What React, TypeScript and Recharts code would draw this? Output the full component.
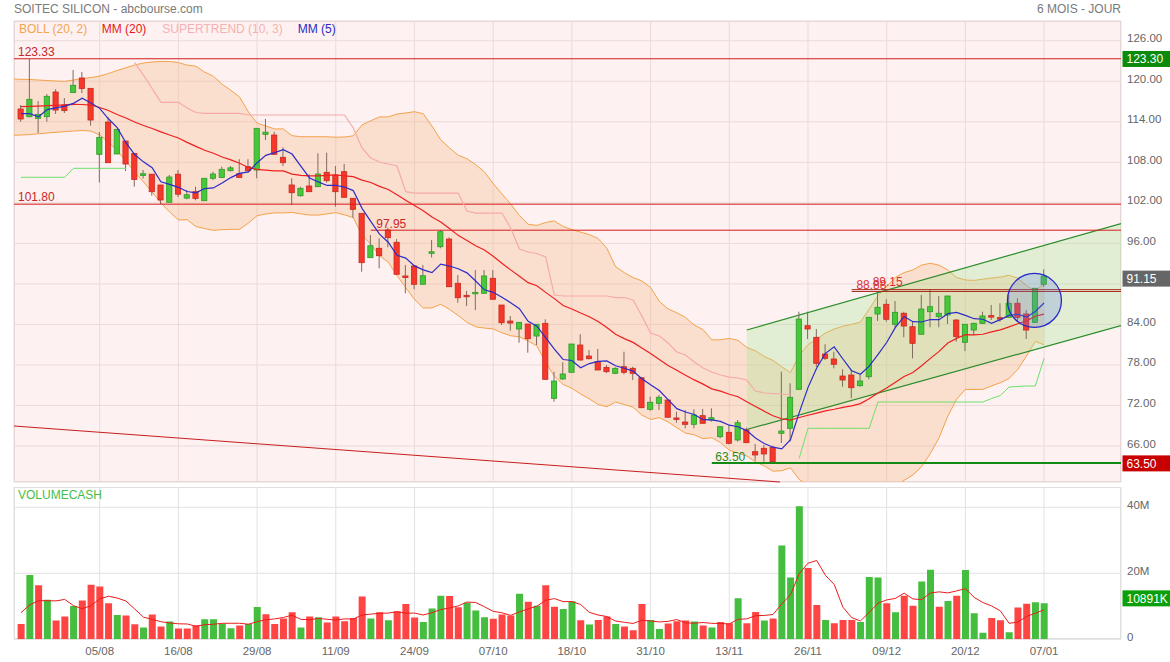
import React from 'react';
import {
  ComposedChart, Bar, Line, Area, XAxis, YAxis, CartesianGrid,
  ReferenceLine, ReferenceDot, Cell,
} from 'recharts';

// ---------------- data ----------------
const DATE_LABELS = ['05/08', '16/08', '29/08', '11/09', '24/09', '07/10', '18/10', '31/10', '13/11', '26/11', '09/12', '20/12', '07/01'];
const DATE_TICKS = [9, 18, 27, 36, 45, 54, 63, 72, 81, 90, 99, 108, 117];
const PRICE_TICKS = [66, 72, 78, 84, 90, 96, 102, 108, 114, 120, 126];
const VOLUME_TICKS = [0, 20, 40];

const OPEN = [
  115.89, 114.75, 114.51, 114.75, 118.41, 116.48, 118.33, 120.48, 118.95, 109.18,
  113.96, 109.23, 111.15, 109.30, 106.04, 106.24, 104.64, 102.08, 106.24, 102.70,
  103.65, 102.31, 105.63, 105.75, 106.76, 106.31, 107.35, 106.86, 112.14, 112.04,
  108.74, 104.64, 103.05, 104.49, 104.39, 106.52, 106.12, 106.61, 102.67, 100.45,
  93.88, 95.27, 97.98, 96.16, 91.17, 92.65, 89.94, 94.65, 95.50, 96.64,
  90.09, 88.31, 88.61, 88.61, 90.83, 86.87, 84.50, 83.32, 84.06, 82.28,
  84.16, 73.06, 75.92, 76.91, 80.95, 79.32, 78.48, 77.65, 76.76, 77.74,
  77.50, 76.11, 71.43, 72.32, 72.81, 70.15, 69.55, 69.21, 70.49, 69.85,
  67.38, 68.03, 66.89, 68.37, 65.16, 65.66, 65.81, 67.88, 68.62, 74.39,
  83.81, 82.09, 79.62, 78.88, 76.36, 76.51, 74.93, 76.26, 85.54, 86.98,
  84.02, 85.65, 83.66, 82.54, 85.88, 85.14, 85.39, 84.65, 81.35, 83.17,
  84.16, 85.30, 85.00, 85.05, 87.13, 85.54, 84.31, 89.94,
];
const HIGH = [
  116.48, 123.30, 117.07, 118.11, 118.81, 117.52, 121.66, 121.37, 118.95, 112.48,
  114.66, 112.88, 111.15, 109.42, 106.86, 106.24, 104.64, 106.12, 106.86, 103.90,
  104.39, 105.63, 106.61, 107.35, 107.45, 108.46, 108.46, 113.03, 114.41, 112.53,
  110.22, 105.63, 104.39, 106.22, 109.33, 109.42, 107.45, 107.75, 102.67, 100.45,
  97.24, 96.75, 98.30, 96.64, 92.80, 92.80, 92.80, 96.50, 97.98, 96.89,
  91.31, 88.95, 92.05, 92.05, 92.05, 86.87, 85.25, 84.31, 84.06, 84.02,
  84.76, 77.00, 78.40, 81.10, 82.54, 80.21, 80.36, 78.00, 77.65, 79.96,
  77.74, 76.11, 73.30, 73.55, 72.81, 71.08, 71.33, 71.43, 71.48, 71.58,
  68.86, 69.11, 69.85, 68.71, 66.30, 66.15, 66.04, 77.00, 75.28, 85.88,
  85.88, 83.32, 81.06, 79.96, 77.35, 77.25, 76.51, 85.05, 88.88, 87.72,
  87.47, 85.88, 84.40, 88.35, 89.15, 88.21, 88.21, 84.80, 84.02, 84.26,
  85.88, 86.87, 87.13, 88.35, 87.87, 86.13, 89.35, 92.16,
];
const LOW = [
  114.01, 114.66, 112.34, 114.01, 115.15, 115.30, 118.33, 118.26, 113.42, 105.01,
  107.94, 109.23, 106.71, 104.39, 105.60, 103.08, 101.83, 102.08, 102.86, 102.52,
  102.37, 102.31, 105.38, 105.68, 106.64, 105.68, 106.49, 105.63, 111.30, 109.08,
  107.45, 101.68, 102.91, 103.65, 104.39, 104.98, 101.43, 102.82, 99.80, 91.80,
  93.88, 92.31, 95.42, 91.42, 88.61, 89.20, 89.94, 93.91, 95.27, 89.58,
  87.21, 86.73, 86.13, 88.61, 87.72, 83.91, 83.07, 81.29, 79.81, 80.95,
  75.87, 72.56, 75.77, 76.91, 78.63, 78.83, 77.25, 76.80, 76.66, 76.61,
  75.77, 71.58, 71.23, 71.33, 70.25, 69.45, 68.62, 68.62, 69.26, 69.60,
  67.14, 66.25, 66.64, 66.49, 63.82, 63.68, 63.50, 66.44, 66.64, 74.39,
  81.84, 77.74, 78.73, 77.50, 74.78, 73.06, 74.78, 75.87, 84.51, 84.40,
  83.57, 82.09, 78.98, 82.54, 83.57, 83.57, 84.06, 81.44, 80.06, 82.43,
  84.06, 84.65, 84.40, 85.05, 84.51, 81.84, 84.31, 89.58,
];
const CLOSE = [
  114.41, 117.33, 115.10, 117.77, 115.74, 115.65, 119.40, 118.92, 114.26, 111.70,
  107.94, 112.88, 107.75, 105.45, 106.31, 103.65, 102.42, 105.82, 103.28, 103.20,
  102.64, 105.63, 106.27, 106.96, 107.18, 105.75, 106.76, 113.03, 112.46, 109.18,
  107.94, 103.50, 104.15, 103.65, 106.27, 105.28, 103.65, 102.82, 101.04, 93.14,
  95.65, 94.17, 96.84, 91.42, 90.97, 89.94, 91.21, 94.75, 97.73, 89.58,
  87.95, 88.16, 88.75, 91.17, 87.72, 84.25, 84.20, 84.31, 81.88, 84.02,
  75.87, 75.62, 76.66, 81.10, 78.73, 78.92, 77.25, 77.00, 77.50, 76.91,
  76.76, 71.67, 72.47, 73.21, 70.25, 70.05, 69.21, 70.59, 69.36, 70.19,
  68.86, 66.40, 69.45, 66.49, 64.67, 64.82, 63.68, 68.22, 73.21, 84.80,
  83.32, 78.24, 78.98, 78.10, 75.77, 74.63, 75.62, 85.05, 86.53, 84.76,
  85.79, 83.76, 81.20, 86.28, 86.62, 85.65, 88.21, 82.18, 84.02, 84.16,
  85.25, 85.20, 84.90, 87.13, 85.05, 83.17, 89.35, 91.15,
];
// volume, millions
const VOLUME_M = [
  4.66, 19.5, 16.4, 11.95, 5.67, 6.89, 10.1, 11.75, 16.5, 16.0,
  10.9, 7.4, 7.2, 4.56, 3.54, 7.5, 3.85, 5.37, 3.24, 3.24,
  4.15, 6.08, 6.08, 4.66, 3.34, 4.15, 4.66, 9.82, 7.6, 4.66,
  6.28, 8.2, 3.54, 6.89, 6.68, 5.06, 6.89, 5.47, 6.48, 12.96,
  6.28, 8.2, 5.77, 8.5, 10.7, 6.58, 5.27, 9.3, 13.2, 13.1,
  9.7, 11.1, 8.7, 6.7, 6.2, 7.5, 7.2, 13.8, 11.4, 10.2,
  16.4, 9.9, 9.2, 11.5, 5.77, 4.46, 5.87, 6.9, 4.66, 3.85,
  2.73, 10.7, 5.87, 3.14, 4.76, 5.47, 5.67, 5.37, 4.15, 3.54,
  5.27, 4.86, 12.46, 4.86, 8.3, 5.67, 6.28, 28.4, 18.7, 40.3,
  21.6, 10.4, 5.87, 4.86, 5.87, 5.87, 5.27, 18.9, 18.7, 10.9,
  8.2, 13.2, 10.2, 17.5, 21.1, 9.9, 11.6, 13.2, 21.0, 7.9,
  2.0, 6.48, 5.77, 2.1, 9.6, 10.8, 11.2, 10.89,
];
const SUPERTREND = [
  105.78, 105.78, 105.78, 105.78, 105.78, 105.78, 107.11, 107.11, 107.11, 107.11,
  107.11, 107.11, 107.11, 122.77, 120.92, 118.92, 116.88, 116.88, 116.88, 116.04,
  115.37, 115.25, 115.25, 115.25, 115.25, 115.25, 115.00, 115.00, 115.00, 115.00,
  115.00, 115.00, 115.00, 115.00, 115.00, 115.00, 115.00, 115.00, 113.08, 110.12,
  108.64, 108.04, 107.75, 107.45, 103.65, 103.45, 103.45, 103.45, 103.45, 103.45,
  103.45, 100.79, 100.49, 100.49, 100.49, 100.49, 98.27, 95.16, 94.72, 94.50,
  93.98, 88.35, 88.21, 88.21, 88.21, 88.21, 88.21, 88.21, 87.98, 87.98,
  87.61, 85.25, 82.73, 82.28, 81.25, 79.92, 79.47, 78.44, 77.55, 76.96,
  76.51, 76.21, 76.07, 75.77, 74.14, 73.85, 73.77, 73.70, 73.55, 64.18,
  68.62, 68.62, 68.62, 68.62, 68.62, 68.62, 68.62, 68.62, 72.51, 72.51,
  72.51, 72.51, 72.51, 72.51, 72.51, 72.51, 72.51, 72.51, 72.51, 72.51,
  72.51, 73.03, 73.48, 74.73, 74.81, 74.88, 74.88, 78.98,
];
const SUPERTREND_SUPPORT = [[0, 12], [89, 117]];

// indicator values read at the start of the window (before enough history)
const MM5_HEAD = [115.2, 115.2, 114.75, 115.8];
const MM20_HEAD = [116.23, 116.29, 116.33, 116.38, 116.44, 116.51, 116.58, 116.56, 116.48, 116.11,
  115.67, 115.07, 114.56, 113.96, 113.45, 113.0, 112.5, 112.05, 111.6];
const BOLL_UP_HEAD = [120.29, 120.26, 120.18, 120.11, 120.03, 119.99, 120.18, 120.40, 120.55, 120.77,
  121.14, 121.59, 122.00, 122.40, 122.70, 122.85, 122.92, 122.92, 122.77];
const BOLL_LOW_HEAD = [112.04, 112.11, 112.22, 112.34, 112.44, 112.53, 112.63, 112.71, 112.63, 112.04,
  111.0, 109.7, 108.2, 106.55, 105.1, 103.6, 102.0, 100.65, 99.46];
const BOLL_EDGE = [112.0, 120.33];
const VOL_MA_HEAD = [8.1, 10.4, 11.7, 11.7];

const CHANNEL = [
  { i: 83, low: 68.44, high: 83.17 },
  { i: 125.8, low: 83.82, high: 98.94 },
];
const TREND_LINE = [{ i: -0.8, price: 68.96 }, { i: 86.8, price: 60.67 }];
const TARGET_CIRCLE = { i: 115.9, price: 87.55 };
const LEVEL_TOP = 123.33;
const LEVEL_MID = 101.80;
const LEVEL_9795 = { price: 97.95, from: 40 };
const LEVEL_8915 = { price: 89.15, from: 95 };
const LEVEL_8888 = { price: 88.88, from: 95 };
const LEVEL_LOW = { price: 63.50, from: 79 };
const BADGE_HIGH = 123.30;
const BADGE_LAST = 91.15;
const BADGE_LOW = 63.50;
const LAST_VOLUME = 10.891;
// axis label hidden behind the last-price badge in the reference
const HIDDEN_PRICE_LABELS = [90];

// ---------------- layout / style ----------------
const FONT = '"Liberation Sans", Arial, Helvetica, sans-serif';
const CHART_W = 1170;
const PRICE_H = 490;
const AXIS_W = 49;
const X_DOMAIN = [-0.8, 125.8];
const PRICE_DOMAIN = [60.67, 128.92];
const VOL_DOMAIN = [0, 46.15];
const GREEN = '#46c83a';
const GREEN_EDGE = '#2f9a26';
const RED = '#f5382a';
const RED_EDGE = '#c8281e';
const WICK = '#7f6b60';
const VOL_GREEN = '#45bd3f';
const VOL_RED = '#ff4444';

// ---------------- derived rows ----------------
const sma = (arr: number[], n: number, end: number) => {
  let s = 0;
  for (let k = end - n + 1; k <= end; k++) s += arr[k];
  return s / n;
};
const sd = (arr: number[], n: number, end: number, m: number) => {
  let s = 0;
  for (let k = end - n + 1; k <= end; k++) s += (arr[k] - m) * (arr[k] - m);
  return Math.sqrt(s / n);
};

const rows: any[] = [{ i: -1, boll: BOLL_EDGE }];
CLOSE.forEach((c, i) => {
  let boll: number[];
  if (i < BOLL_UP_HEAD.length) boll = [BOLL_LOW_HEAD[i], BOLL_UP_HEAD[i]];
  else {
    const m = sma(CLOSE, 20, i);
    const s = sd(CLOSE, 20, i, m);
    boll = [m - 2 * s, m + 2 * s];
  }
  const support = SUPERTREND_SUPPORT.some(([a, b]) => i >= a && i <= b);
  rows.push({
    i,
    o: OPEN[i], h: HIGH[i], l: LOW[i], c,
    mm5: i < MM5_HEAD.length ? MM5_HEAD[i] : sma(CLOSE, 5, i),
    mm20: i < MM20_HEAD.length ? MM20_HEAD[i] : sma(CLOSE, 20, i),
    boll,
    stSupport: support ? SUPERTREND[i] : null,
    stResist: support ? null : SUPERTREND[i],
    v: VOLUME_M[i],
    vma: i < VOL_MA_HEAD.length ? VOL_MA_HEAD[i] : sma(VOLUME_M, 5, i),
    up: i > 0 && c > CLOSE[i - 1],
  });
});

// ---------------- render helpers ----------------
const Candle = (props: any) => {
  const { x, y, width, height, payload } = props;
  if (!payload || payload.c == null || !isFinite(y) || !isFinite(height)) return null;
  const { o, h, l, c } = payload;
  const k = height / (h - l);
  const yO = y + (h - o) * k;
  const yC = y + (h - c) * k;
  const up = c >= o;
  const cx = x + width / 2;
  const top = Math.min(yO, yC);
  const bh = Math.max(Math.abs(yC - yO), 1.5);
  return (
    <g>
      <line x1={cx} x2={cx} y1={y} y2={y + height} stroke={WICK} strokeWidth={1} />
      <rect x={x + 0.4} y={top} width={width - 0.8} height={bh}
        fill={up ? GREEN : RED} stroke={up ? GREEN_EDGE : RED_EDGE} strokeWidth={0.8} />
    </g>
  );
};

const PriceTick = (props: any) => {
  const { x, y, payload } = props;
  const v = Number(payload.value);
  if (HIDDEN_PRICE_LABELS.includes(v)) return <g />;
  return (
    <text x={x} y={y - 2.6} dy="0.36em" textAnchor="start" fill="#666" fontSize={11.5} fontFamily={FONT}>
      {v.toFixed(2)}
    </text>
  );
};
const VolTick = (props: any) => {
  const { x, y, payload } = props;
  const v = Number(payload.value);
  return (
    <text x={x} y={y - 2.6} dy="0.36em" textAnchor="start" fill="#666" fontSize={11.5} fontFamily={FONT}>
      {v === 0 ? '0' : `${v}M`}
    </text>
  );
};
const DateTick = (props: any) => {
  const { x, y, payload } = props;
  const idx = DATE_TICKS.indexOf(payload.value);
  return (
    <text x={x} y={y} dy={16} textAnchor="middle" fill="#666" fontSize={11.5} fontFamily={FONT}>
      {DATE_LABELS[idx]}
    </text>
  );
};

const levelLabel = (text: string, color: string, dx: number, dy: number) => (props: any) => {
  const vb = props.viewBox || {};
  return (
    <text x={(vb.x ?? 0) + dx} y={(vb.y ?? 0) + dy} fill={color} fontSize={12} fontFamily={FONT}>{text}</text>
  );
};
const badgeLabel = (text: string, bg: string, shift: number) => (props: any) => {
  const vb = props.viewBox || {};
  const left = (vb.x ?? 0) + (vb.width ?? 0) + 1.5;
  const cy = (vb.y ?? 0) + shift;
  return (
    <g>
      <rect x={left} y={cy - 8} width={CHART_W - left} height={16} fill={bg} />
      <text x={left + 4} y={cy} dy="0.36em" fill="#fff" fontSize={12} fontFamily={FONT}>{text}</text>
    </g>
  );
};

const layer: React.CSSProperties = { position: 'absolute', left: 0, top: 0 };
const txt = (left: number, top: number, color: string): React.CSSProperties => ({
  position: 'absolute', left, top, color, fontSize: 12, lineHeight: '14px', fontFamily: FONT, whiteSpace: 'nowrap',
});

export default function App() {
  const margin = { top: 21, right: AXIS_W, bottom: 8, left: 14 };
  return (
    <div style={{ position: 'absolute', left: 0, top: 0, width: 1170, height: 662, background: '#fff', overflow: 'hidden', fontFamily: FONT }}>
      {/* panel backgrounds */}
      <div style={{ position: 'absolute', left: 14, top: 21, width: 1107, height: 461, background: '#fdf1f1', border: '1px solid #e3d3d3', boxSizing: 'border-box' }} />
      <div style={{ position: 'absolute', left: 14, top: 487, width: 1107, height: 152.3, background: '#fff', border: '1px solid #dcdcdc', boxSizing: 'border-box' }} />

      {/* price: grid, axis, bollinger */}
      <div style={layer}>
        <ComposedChart width={CHART_W} height={PRICE_H} data={rows} margin={{ ...margin, right: 0 }}>
          <XAxis dataKey="i" type="number" domain={X_DOMAIN} ticks={DATE_TICKS} allowDataOverflow hide />
          <YAxis orientation="right" type="number" width={AXIS_W} domain={PRICE_DOMAIN} ticks={PRICE_TICKS}
            allowDataOverflow interval={0} tickLine={false} axisLine={false} tickSize={0} tickMargin={6} tick={<PriceTick />} />
          <CartesianGrid stroke="#ebdada" />
          <Area type="linear" dataKey="boll" stroke="#f5a24a" strokeWidth={1} fill="#f7b987" fillOpacity={0.32} isAnimationActive={false} />
        </ComposedChart>
      </div>

      {/* price: channel */}
      <div style={layer}>
        <ComposedChart width={CHART_W} height={PRICE_H} data={CHANNEL} margin={margin}>
          <XAxis dataKey="i" type="number" domain={X_DOMAIN} allowDataOverflow hide />
          <YAxis type="number" domain={PRICE_DOMAIN} allowDataOverflow hide />
          <Area type="linear" dataKey={(d: any) => [d.low, d.high]} stroke="#2b8c2b" strokeWidth={1.2}
            fill="#9fe58a" fillOpacity={0.28} isAnimationActive={false} />
        </ComposedChart>
      </div>

      {/* price: levels, supertrend, candles, averages */}
      <div style={layer}>
        <ComposedChart width={CHART_W} height={PRICE_H} data={rows} margin={margin}>
          <XAxis dataKey="i" type="number" domain={X_DOMAIN} allowDataOverflow hide />
          <YAxis type="number" domain={PRICE_DOMAIN} allowDataOverflow hide />
          <ReferenceLine y={LEVEL_TOP} stroke="#d41c1c" strokeWidth={1} label={levelLabel('123.33', '#c82828', 4, -3)} />
          <ReferenceLine y={LEVEL_MID} stroke="#d41c1c" strokeWidth={1} label={levelLabel('101.80', '#c82828', 4, -3)} />
          <ReferenceLine ifOverflow="visible" segment={[{ x: LEVEL_9795.from, y: LEVEL_9795.price }, { x: X_DOMAIN[1], y: LEVEL_9795.price }]}
            stroke="#d41c1c" strokeWidth={1} label={levelLabel('97.95', '#c82828', 5.5, -2)} />
          <ReferenceLine ifOverflow="visible" segment={[{ x: LEVEL_8888.from, y: LEVEL_8888.price }, { x: X_DOMAIN[1], y: LEVEL_8888.price }]}
            stroke="#a8281c" strokeWidth={1} label={levelLabel('88.88', '#d83434', 4.7, -2)} />
          <ReferenceLine ifOverflow="visible" segment={[{ x: LEVEL_8915.from, y: LEVEL_8915.price }, { x: X_DOMAIN[1], y: LEVEL_8915.price }]}
            stroke="#a8281c" strokeWidth={1} label={levelLabel('89.15', '#d83434', 21, -3.6)} />
          <ReferenceLine ifOverflow="visible" segment={[{ x: LEVEL_LOW.from, y: LEVEL_LOW.price }, { x: X_DOMAIN[1], y: LEVEL_LOW.price }]}
            stroke="#138a13" strokeWidth={2} label={levelLabel('63.50', '#1e8c1e', 3.5, -2)} />
          <ReferenceLine ifOverflow="visible" segment={[{ x: TREND_LINE[0].i, y: TREND_LINE[0].price }, { x: TREND_LINE[1].i, y: TREND_LINE[1].price }]}
            stroke="#c81e1e" strokeWidth={1} />
          <Line type="linear" dataKey="stResist" stroke="#f5aaaa" strokeWidth={1.2} dot={false} isAnimationActive={false} />
          <Line type="linear" dataKey="stSupport" stroke="#6ee06a" strokeWidth={1} dot={false} isAnimationActive={false} />
          <Bar dataKey={(d: any) => (d.c == null ? null : [d.l, d.h])} barSize={6} shape={Candle} isAnimationActive={false} />
          <Line type="linear" dataKey="mm20" stroke="#ee2020" strokeWidth={1.2} dot={false} isAnimationActive={false} />
          <Line type="linear" dataKey="mm5" stroke="#2c2cc8" strokeWidth={1.2} dot={false} isAnimationActive={false} />
          <ReferenceDot x={TARGET_CIRCLE.i} y={TARGET_CIRCLE.price} r={27} ifOverflow="visible"
            fill="#5a7ee0" fillOpacity={0.25} stroke="#2626c8" strokeWidth={1.3} />
          <ReferenceLine y={BADGE_HIGH} stroke="none" label={badgeLabel('123.30', '#0b8a0b', 0)} />
          <ReferenceLine y={BADGE_LAST} stroke="none" label={badgeLabel('91.15', '#666666', 2.5)} />
          <ReferenceLine y={BADGE_LOW} stroke="none" label={badgeLabel('63.50', '#c80000', 0.5)} />
        </ComposedChart>
      </div>

      {/* volume */}
      <div style={{ position: 'absolute', left: 0, top: 487 }}>
        <ComposedChart width={CHART_W} height={175} data={rows} margin={{ top: 0, right: 0, bottom: 0, left: 14 }}>
          <XAxis dataKey="i" type="number" domain={X_DOMAIN} ticks={DATE_TICKS} allowDataOverflow interval={0}
            height={22.7} tickLine={false} axisLine={false} tickSize={0} tickMargin={0} tick={<DateTick />} />
          <YAxis orientation="right" type="number" width={AXIS_W} domain={VOL_DOMAIN} ticks={VOLUME_TICKS}
            allowDataOverflow interval={0} tickLine={false} axisLine={false} tickSize={0} tickMargin={6} tick={<VolTick />} />
          <CartesianGrid stroke="#e2e2e2" />
          <Bar dataKey="v" barSize={7} isAnimationActive={false}>
            {rows.map((r) => (
              <Cell key={r.i} fill={r.up ? VOL_GREEN : VOL_RED} />
            ))}
          </Bar>
          <Line type="linear" dataKey="vma" stroke="#e81c1c" strokeWidth={1} dot={false} isAnimationActive={false} />
          <ReferenceLine y={LAST_VOLUME} stroke="none" label={badgeLabel('10891K', '#0ba00b', -5)} />
        </ComposedChart>
      </div>

      {/* texts */}
      <div style={txt(14, 2, '#7a7a7a')}>SOITEC SILICON - abcbourse.com</div>
      <div style={{ ...txt(0, 2, '#7a7a7a'), width: 1121, textAlign: 'right' }}>6 MOIS - JOUR</div>
      <div style={txt(19, 22.4, '#f5a54c')}>BOLL (20, 2)</div>
      <div style={txt(101.7, 22.4, '#e81818')}>MM (20)</div>
      <div style={txt(162.3, 22.4, '#f5b2b2')}>SUPERTREND (10, 3)</div>
      <div style={txt(297.7, 22.4, '#2a2ac4')}>MM (5)</div>
      <div style={txt(18, 488, '#46be46')}>VOLUMECASH</div>
    </div>
  );
}
